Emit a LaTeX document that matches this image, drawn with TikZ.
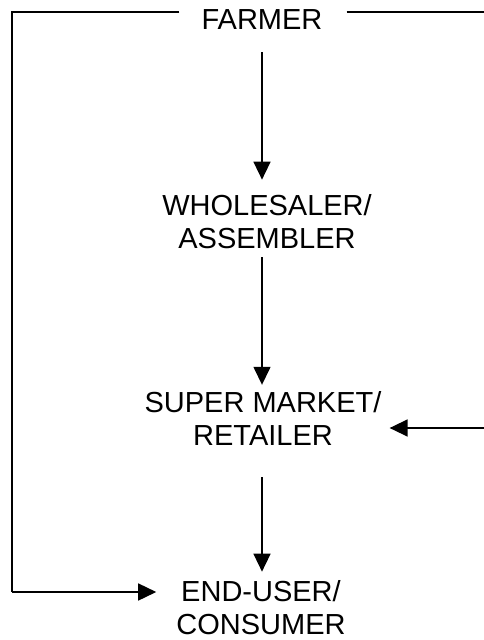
\documentclass[tikz,border=0pt]{standalone}
\usepackage{fontspec}
\setmainfont{Liberation Sans}
\usetikzlibrary{arrows.meta,positioning,calc}
\tikzset{
  lbl/.style={inner sep=0pt, align=center, font=\fontsize{29pt}{33pt}\selectfont},
  flowarr/.style={-{Triangle[length=18pt, width=17pt]}, line width=1.5pt},
  frame/.style={line width=1.3pt},
}

\begin{document}
\begin{tikzpicture}[x=1pt, y=-1pt]
    \useasboundingbox (0,0) rectangle (484,640);
    \node[lbl] (farmer) at (262,20) {FARMER};
    \node[lbl] (wholesaler) at (267,222) {WHOLESALER/\\ASSEMBLER};
    \node[lbl] (retailer) at (263,418) {SUPER MARKET/\\RETAILER};
    \node[lbl] (consumer) at (261,608) {END-USER/\\CONSUMER};
    % chain down the middle
    \draw[flowarr, shorten <=22pt, shorten >=15pt] (farmer.south) -- (farmer.south |- wholesaler.north);
    \draw[flowarr, shorten <=8pt, shorten >=6pt] (wholesaler.south -| farmer.south) -- (farmer.south |- retailer.north);
    \draw[flowarr, shorten <=32pt, shorten >=9pt] (retailer.south -| farmer.south) -- (farmer.south |- consumer.north);
    % farmer straight to the end user
    \coordinate (tl) at (12,12);
    \coordinate (bl) at (12,592);
    \draw[frame] ([xshift=-22pt]farmer.west |- tl) -- (tl) -- (bl);
    \draw[flowarr] (bl) -- ([xshift=-20pt]consumer.west |- bl);
    \draw[frame] ([xshift=24pt]farmer.east |- tl) -- (484,12);
    % from outside into the retailer
    \coordinate (rin) at (484,428);
    \draw[flowarr] (rin) -- ([xshift=8pt]retailer.east |- rin);
\end{tikzpicture}
\end{document}
